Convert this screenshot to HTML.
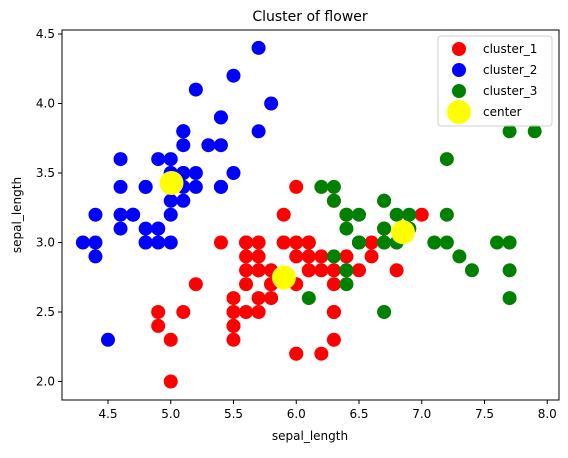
<!DOCTYPE html>
<html><head><meta charset="utf-8"><style>
body{margin:0;background:#fff;font-family:"Liberation Sans","DejaVu Sans",sans-serif;}
text{font-family:"DejaVu Sans","Liberation Sans",sans-serif;}
</style></head><body>
<svg id="chart" width="568" height="453">
<g id="marks"></g>
<rect x="62" y="30" width="497" height="370" fill="none" stroke="#000" stroke-width="1"/>
<g id="axes" font-size="12" fill="#000"></g>
<text x="310" y="21" font-size="14" text-anchor="middle">Cluster of flower</text>
<text x="310" y="440" font-size="12" text-anchor="middle">sepal_length</text>
<text x="21" y="215" font-size="12" text-anchor="middle" transform="rotate(-90 21 215)">sepal_length</text>
<g>
<rect x="438" y="36" width="114" height="90" rx="3" fill="#fff" stroke="#ccc" opacity="0.9"/>
<circle cx="459" cy="49" r="7" fill="red"/><text x="483" y="53" font-size="12">cluster_1</text>
<circle cx="459" cy="70" r="7" fill="blue"/><text x="483" y="74" font-size="12">cluster_2</text>
<circle cx="459" cy="91" r="7" fill="green"/><text x="483" y="95" font-size="12">cluster_3</text>
<circle cx="459" cy="112" r="12" fill="yellow"/><text x="483" y="116" font-size="12">center</text>
</g>
</svg>
<script>
const cluster1 = [[7.0,3.2],[6.4,3.2],[5.5,2.3],[6.5,2.8],[5.7,2.8],[6.3,3.3],[4.9,2.4],[6.6,2.9],[5.2,2.7],[5.0,2.0],[5.9,3.0],[6.0,2.2],[6.1,2.9],[5.6,2.9],[6.7,3.1],[5.6,3.0],[5.8,2.7],[6.2,2.2],[5.6,2.5],[5.9,3.2],[6.1,2.8],[6.3,2.5],[6.1,2.8],[6.4,2.9],[6.6,3.0],[6.8,2.8],[6.0,2.9],[5.7,2.6],[5.5,2.4],[5.5,2.4],[5.8,2.7],[6.0,2.7],[5.4,3.0],[6.0,3.4],[6.3,2.3],[5.6,3.0],[5.5,2.5],[5.5,2.6],[6.1,3.0],[5.8,2.6],[5.0,2.3],[5.6,2.7],[5.7,3.0],[5.7,2.9],[6.2,2.9],[5.1,2.5],[5.7,2.8],[5.8,2.7],[4.9,2.5],[5.7,2.5],[5.8,2.8],[6.0,2.2],[5.6,2.8],[6.3,2.7],[6.2,2.8],[6.1,3.0],[6.3,2.8],[6.0,3.0],[5.8,2.7],[6.3,2.5],[5.9,3.0]];
const cluster2 = [[5.1,3.5],[4.9,3.0],[4.7,3.2],[4.6,3.1],[5.0,3.6],[5.4,3.9],[4.6,3.4],[5.0,3.4],[4.4,2.9],[4.9,3.1],[5.4,3.7],[4.8,3.4],[4.8,3.0],[4.3,3.0],[5.8,4.0],[5.7,4.4],[5.4,3.9],[5.1,3.5],[5.7,3.8],[5.1,3.8],[5.4,3.4],[5.1,3.7],[4.6,3.6],[5.1,3.3],[4.8,3.4],[5.0,3.0],[5.0,3.4],[5.2,3.5],[5.2,3.4],[4.7,3.2],[4.8,3.1],[5.4,3.4],[5.2,4.1],[5.5,4.2],[4.9,3.1],[5.0,3.2],[5.5,3.5],[4.9,3.6],[4.4,3.0],[5.1,3.4],[5.0,3.5],[4.5,2.3],[4.4,3.2],[5.0,3.5],[5.1,3.8],[4.8,3.0],[5.1,3.8],[4.6,3.2],[5.3,3.7],[5.0,3.3]];
const cluster3 = [[6.9,3.1],[6.7,3.0],[6.3,3.3],[7.1,3.0],[6.3,2.9],[6.5,3.0],[7.6,3.0],[7.3,2.9],[6.7,2.5],[7.2,3.6],[6.5,3.2],[6.4,2.7],[6.8,3.0],[6.4,3.2],[6.5,3.0],[7.7,3.8],[7.7,2.6],[6.9,3.2],[7.7,2.8],[6.7,3.3],[7.2,3.2],[6.4,2.8],[7.2,3.0],[7.4,2.8],[7.9,3.8],[6.4,2.8],[6.1,2.6],[7.7,3.0],[6.3,3.4],[6.4,3.1],[6.9,3.1],[6.7,3.1],[6.9,3.1],[6.8,3.2],[6.7,3.3],[6.7,3.0],[6.5,3.0],[6.2,3.4]];
const centers = [[5.006,3.428],[5.902,2.748],[6.850,3.074]];
const xTicks = [4.5,5.0,5.5,6.0,6.5,7.0,7.5,8.0];
const yTicks = [2.0,2.5,3.0,3.5,4.0,4.5];

const NS='http://www.w3.org/2000/svg';
function sx(v){return 108+(v-4.5)*125.5;}
function sy(v){return 34+(4.5-v)*139;}
const marks=document.getElementById('marks');
function dot(p,r,fill,name){
  const c=document.createElementNS(NS,'circle');
  c.setAttribute('cx',sx(p[0]));c.setAttribute('cy',sy(p[1]));c.setAttribute('r',r);c.setAttribute('fill',fill);
  
  
  marks.appendChild(c);
}
cluster1.forEach(p=>dot(p,7,'red','cluster-1-point'));
cluster2.forEach(p=>dot(p,7,'blue','cluster-2-point'));
cluster3.forEach(p=>dot(p,7,'green','cluster-3-point'));
centers.forEach(p=>dot(p,12,'yellow','center-point'));
const axes=document.getElementById('axes');
function el(tag,attrs,txt){const e=document.createElementNS(NS,tag);for(const k in attrs)e.setAttribute(k,attrs[k]);if(txt)e.textContent=txt;axes.appendChild(e);return e;}
xTicks.forEach(t=>{
  const x=sx(t);
  const l=el('line',{x1:x,x2:x,y1:400,y2:404,stroke:'#000'});
  
  
  const tx=el('text',{x:x,y:418,'text-anchor':'middle'},t.toFixed(1));
  
  
});
yTicks.forEach(t=>{
  const y=sy(t);
  const l=el('line',{x1:58,x2:62,y1:y,y2:y,stroke:'#000'});
  
  
  const tx=el('text',{x:55,y:y+4,'text-anchor':'end'},t.toFixed(1));
  
  
});
</script>
</body></html>
